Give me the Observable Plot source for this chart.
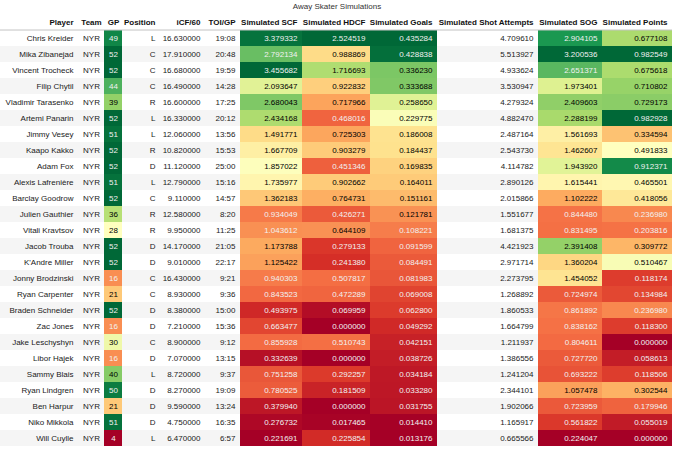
<!DOCTYPE html>
<html><head><meta charset="utf-8">
<script src="https://cdn.jsdelivr.net/npm/d3@7"></script>
<script src="https://cdn.jsdelivr.net/npm/@observablehq/plot@0.6"></script>
<style>
body{margin:0;background:#fff;font-family:"Liberation Sans",Arial,sans-serif;}
#title{height:13px;line-height:13px;font-size:8px;color:#333;text-align:center;width:674px;}
#chart svg{display:block;}
</style></head><body>
<div id="title">Away Skater Simulations</div>
<div id="chart"></div>
<script>
const players = ["Chris Kreider","Mika Zibanejad","Vincent Trocheck","Filip Chytil","Vladimir Tarasenko","Artemi Panarin","Jimmy Vesey","Kaapo Kakko","Adam Fox","Alexis Lafrenière","Barclay Goodrow","Julien Gauthier","Vitali Kravtsov","Jacob Trouba","K'Andre Miller","Jonny Brodzinski","Ryan Carpenter","Braden Schneider","Zac Jones","Jake Leschyshyn","Libor Hajek","Sammy Blais","Ryan Lindgren","Ben Harpur","Niko Mikkola","Will Cuylle"];
const teams = players.map(() => "NYR");
const gp = [49,52,52,44,39,52,51,52,52,51,52,36,28,52,52,16,21,52,16,30,16,40,50,21,51,4];
const positions = ["L","C","C","C","R","L","L","R","D","L","C","R","R","D","D","C","C","D","D","C","D","L","D","D","D","L"];
const icf60 = [16.63,17.91,16.68,16.49,16.60,16.33,12.06,10.82,11.12,12.79,9.11,12.58,9.95,14.17,9.01,16.43,8.93,8.38,7.21,8.90,7.07,8.72,8.27,9.59,4.75,6.47];
const toiGp = ["19:08","20:48","19:59","14:28","17:25","20:12","13:56","15:53","25:00","15:16","14:57","8:20","11:25","21:05","22:17","9:21","9:36","15:00","15:36","9:12","13:15","9:37","19:09","13:24","16:35","6:57"];
const simSCF = [3.379332,2.792134,3.455682,2.093647,2.680043,2.434168,1.491771,1.667709,1.857022,1.735977,1.362183,0.934049,1.043612,1.173788,1.125422,0.940303,0.843523,0.493975,0.663477,0.855928,0.332639,0.751258,0.780525,0.379940,0.276732,0.221691];
const simHDCF = [2.524519,0.988869,1.716693,0.922832,0.717966,0.468016,0.725303,0.903279,0.451346,0.902662,0.764731,0.426271,0.644109,0.279133,0.241380,0.507817,0.472289,0.069959,0.000000,0.510743,0.000000,0.292257,0.181509,0.000000,0.017465,0.225854];
const simGoals = [0.435284,0.428838,0.336230,0.333688,0.258650,0.229775,0.186008,0.184437,0.169835,0.164011,0.151161,0.121781,0.108221,0.091599,0.084491,0.081983,0.069008,0.062800,0.049292,0.042151,0.038726,0.034184,0.033280,0.031755,0.014410,0.013176];
const simShotAttempts = [4.709610,5.513927,4.933624,3.530947,4.279324,4.882470,2.487164,2.543730,4.114782,2.890126,2.015866,1.551677,1.681375,4.421923,2.971714,2.273795,1.268892,1.860533,1.664799,1.211937,1.386556,1.241204,2.344101,1.902066,1.165917,0.665566];
const simSOG = [2.904105,3.200536,2.651371,1.973401,2.409603,2.288199,1.561693,1.462607,1.943920,1.615441,1.102222,0.844480,0.831495,2.391408,1.360204,1.454052,0.724974,0.861892,0.838162,0.804611,0.727720,0.693222,1.057478,0.723959,0.561822,0.224047];
const simPoints = [0.677108,0.982549,0.675618,0.710802,0.729173,0.982928,0.334594,0.491833,0.912371,0.465501,0.418056,0.236980,0.203816,0.309772,0.510467,0.118174,0.134984,0.236980,0.118300,0.000000,0.058613,0.118506,0.302544,0.179946,0.055019,0.000000];

// layout / style config
const f6 = v => v.toFixed(6);
const str = v => String(v);
const columns = [
  {label:"Player", values:players, width:78, align:"end", fmt:str},
  {label:"Team", values:teams, width:26, align:"middle", fmt:str},
  {label:"GP", values:gp, width:18, align:"middle", fmt:str, grad:true},
  {label:"Position", values:positions, width:38, align:"end", fmt:str},
  {label:"iCF/60", values:icf60, width:45, align:"end", fmt:f6},
  {label:"TOI/GP", values:toiGp, width:35, align:"end", fmt:str},
  {label:"Simulated SCF", values:simSCF, width:62, align:"end", fmt:f6, grad:true},
  {label:"Simulated HDCF", values:simHDCF, width:68, align:"end", fmt:f6, grad:true},
  {label:"Simulated Goals", values:simGoals, width:67, align:"end", fmt:f6, grad:true},
  {label:"Simulated Shot Attempts", values:simShotAttempts, width:101, align:"end", fmt:f6},
  {label:"Simulated SOG", values:simSOG, width:64, align:"end", fmt:f6, grad:true},
  {label:"Simulated Points", values:simPoints, width:70, align:"end", fmt:f6, grad:true}
];
const pad = 5;
const rdylgn = ["#a50026","#d73027","#f46d43","#fdae61","#fee08b","#ffffbf","#d9ef8b","#a6d96a","#66bd63","#1a9850","#006837"];
const stops = rdylgn.map((_, i) => i / (rdylgn.length - 1));
const colorOf = d3.scaleLinear().domain(stops).range(rdylgn).interpolate(d3.interpolateRgb);
function luminance(c) {
  const {r, g, b} = d3.rgb(c);
  const lin = x => { x /= 255; return x <= 0.04045 ? x / 12.92 : Math.pow((x + 0.055) / 1.055, 2.4); };
  return 0.2126 * lin(r) + 0.7152 * lin(g) + 0.0722 * lin(b);
}

let left = 0;
const cells = [], headers = [];
columns.forEach(c => {
  const x0 = left, x1 = left + c.width; left = x1;
  const tx = c.align === "middle" ? (x0 + x1) / 2 : x1 - pad;
  headers.push({label: c.label, tx, align: c.align});
  const lo = c.grad ? d3.min(c.values) : 0, hi = c.grad ? d3.max(c.values) : 1;
  c.values.forEach((v, i) => {
    const t = c.grad ? (v - lo) / (hi - lo) : null;
    let ink = "plain";
    if (t != null) ink = luminance(colorOf(t)) < 0.408 ? "light" : "dark";
    cells.push({player: players[i], x0, x1, tx, align: c.align, label: c.fmt(v), t, ink});
  });
});
const tableW = left;
const H = "__header";
const height = 438, marginBottom = 5;
const bandH = (height - marginBottom) / (players.length + 1);

const textMarks = [];
for (const align of ["end", "middle"]) {
  textMarks.push(Plot.text(headers.filter(d => d.align === align), {
    x: "tx", y: () => H, text: "label", textAnchor: align, fontWeight: "bold", fill: "#111", fontSize: 8
  }));
  for (const [ink, fill] of [["plain", "#1a1a1a"], ["dark", "#000"], ["light", "#f1f1f1"]]) {
    textMarks.push(Plot.text(cells.filter(d => d.align === align && d.ink === ink), {
      x: "tx", y: "player", text: "label", textAnchor: align, fill, fontSize: 8
    }));
  }
}

const chart = Plot.plot({
  width: 680, height, marginTop: 0, marginLeft: 0, marginRight: 0, marginBottom,
  x: {domain: [0, 680], range: [0, 680], axis: null},
  y: {type: "band", domain: [H, ...players], padding: 0, axis: null},
  color: {type: "linear", domain: stops, range: rdylgn, interpolate: "rgb"},
  style: {fontFamily: '"Liberation Sans", Arial, sans-serif', fontSize: "8px", background: "#fff"},
  marks: [
    Plot.barX(players.filter((_, i) => i % 2 === 1), {x1: 0, x2: tableW, y: d => d, fill: "#f5f5f5"}),
    Plot.barX(cells.filter(d => d.t != null), {x1: "x0", x2: "x1", y: "player", fill: "t"}),
    Plot.ruleY([H], {x1: 0, x2: tableW, stroke: "#c4c4c4", dy: bandH / 2 - 0.5}),
    ...textMarks
  ]
});
document.getElementById("chart").appendChild(chart);
</script>
</body></html>
